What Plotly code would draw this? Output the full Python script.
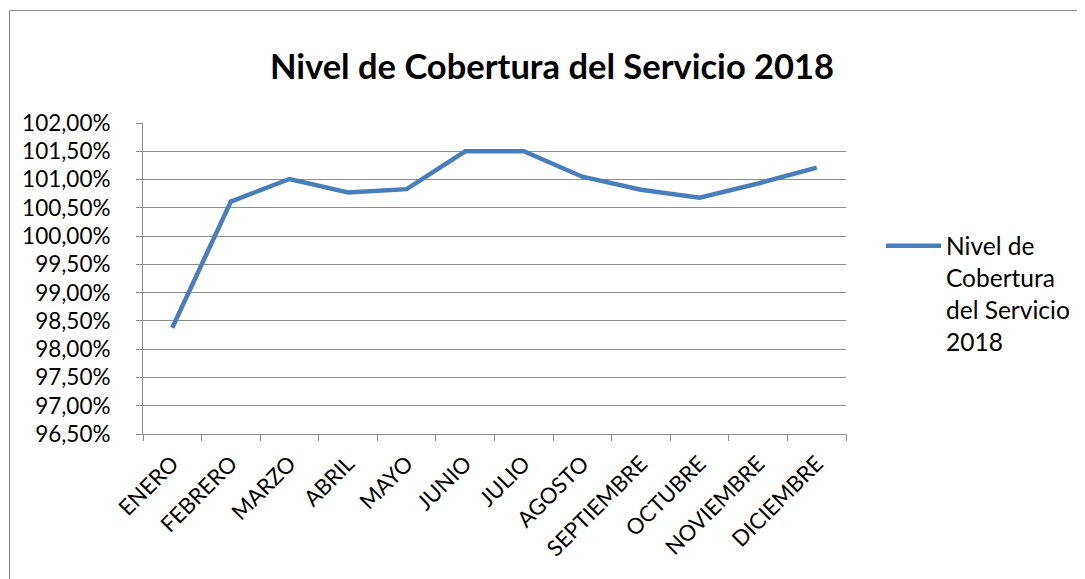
import plotly.graph_objects as go

meses = ["ENERO", "FEBRERO", "MARZO", "ABRIL", "MAYO", "JUNIO", "JULIO",
         "AGOSTO", "SEPTIEMBRE", "OCTUBRE", "NOVIEMBRE", "DICIEMBRE"]
cobertura = [98.38, 100.61, 101.01, 100.77, 100.83, 101.50, 101.50,
             101.05, 100.82, 100.68, 100.93, 101.21]
serie = "Nivel de<br>Cobertura<br>del Servicio<br>2018"
titulo = "Nivel de Cobertura del Servicio 2018"

OFF = 8  # page body margin
W, H = 1085 - OFF, 579 - OFF
L, R, T, B = 143 - OFF, 846 - OFF, 122.7 - OFF, 434 - OFF

def px_x(x):
    return (x - OFF - L) / (R - L)

def px_y(y):
    return (B - (y - OFF)) / (B - T)

fig = go.Figure()
fig.add_trace(go.Scatter(
    x=meses, y=cobertura, mode="lines", name=serie,
    line=dict(color="#4a7ebb", width=4.5),
    showlegend=True,
))

fig.add_shape(type="rect", xref="paper", yref="paper",
              x0=px_x(9.5), x1=px_x(1200), y0=px_y(700), y1=px_y(10),
              line=dict(color="#868686", width=1), fillcolor="rgba(0,0,0,0)", layer="below")

grid = "#8c8c8c"
FONT = "Lato, Open Sans, sans-serif"
fig.update_layout(
    width=W, height=H,
    margin=dict(l=L, r=W - R, t=T, b=H - B, autoexpand=False),
    paper_bgcolor="white", plot_bgcolor="white",
    separators=",.",
    font=dict(family=FONT, color="black", size=21),
    title=dict(text="<b>" + titulo + "</b>", x=(552 - OFF) / W, xanchor="center",
               y=1 - (67 - OFF) / H, yanchor="middle",
               font=dict(size=34.5, family=FONT, color="black")),
    showlegend=True,
    legend=dict(x=px_x(881), xanchor="left", y=px_y(223), yanchor="top",
                valign="top", font=dict(size=24.5), bgcolor="rgba(0,0,0,0)",
                itemwidth=55, tracegroupgap=0),
    xaxis=dict(type="category", range=[-0.5, 11.5], tickangle=-45,
               showline=True, linecolor=grid, linewidth=1,
               ticks="outside", tickson="boundaries", ticklen=6, tickcolor=grid,
               showgrid=False, tickfont=dict(size=22), ticklabelstandoff=7),
    yaxis=dict(range=[96.5, 102], dtick=0.5, tick0=96.5, tickformat=".2f",
               ticksuffix="%", showline=True, linecolor=grid, linewidth=1,
               ticks="outside", ticklen=6, tickcolor=grid,
               showgrid=True, gridcolor=grid, gridwidth=1,
               zeroline=False, tickfont=dict(size=22.5), ticklabelstandoff=21),
)

fig.write_html("out.html")
